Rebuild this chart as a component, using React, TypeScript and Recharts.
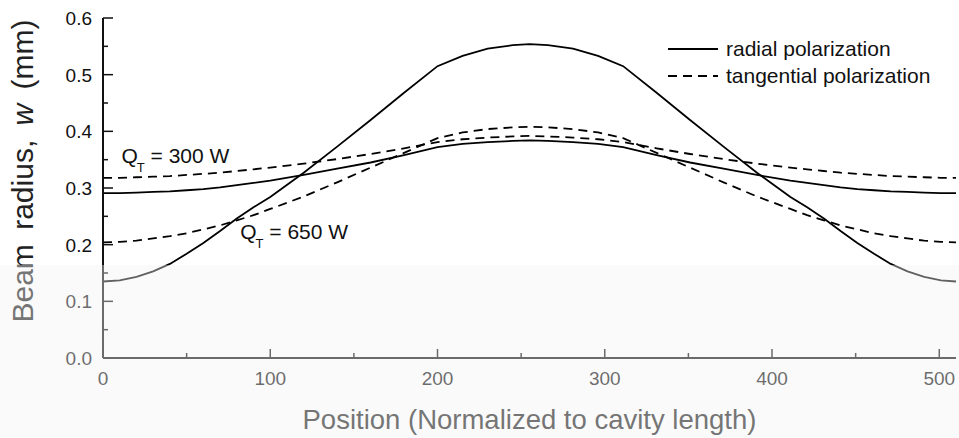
import React from 'react';
import { LineChart, Line, XAxis, YAxis, Legend, ReferenceDot } from 'recharts';

// position along the cavity (normalized)
const positions = [0, 10, 20, 30, 40, 50, 60, 70, 80, 90, 100, 120, 140, 160, 180, 200, 215, 230, 245, 255, 266, 281, 296, 311, 331, 351, 371, 391, 411, 421, 431, 441, 451, 461, 471, 481, 491, 501, 510];

// beam radius (mm)
const radial650 = [0.135, 0.137, 0.143, 0.153, 0.166, 0.184, 0.203, 0.224, 0.246, 0.266, 0.284, 0.327, 0.373, 0.42, 0.468, 0.515, 0.533, 0.546, 0.552, 0.554, 0.552, 0.546, 0.533, 0.515, 0.468, 0.42, 0.373, 0.327, 0.284, 0.266, 0.246, 0.224, 0.203, 0.184, 0.166, 0.153, 0.143, 0.137, 0.135];
const radial300 = [0.291, 0.291, 0.292, 0.293, 0.294, 0.296, 0.298, 0.301, 0.305, 0.309, 0.313, 0.323, 0.334, 0.345, 0.358, 0.372, 0.378, 0.381, 0.383, 0.384, 0.383, 0.381, 0.378, 0.372, 0.358, 0.345, 0.334, 0.323, 0.313, 0.309, 0.305, 0.301, 0.298, 0.296, 0.294, 0.293, 0.292, 0.291, 0.291];
const tang650 = [0.204, 0.205, 0.207, 0.211, 0.215, 0.22, 0.227, 0.234, 0.243, 0.252, 0.263, 0.285, 0.31, 0.336, 0.362, 0.388, 0.398, 0.404, 0.407, 0.408, 0.407, 0.404, 0.398, 0.388, 0.362, 0.336, 0.31, 0.285, 0.263, 0.252, 0.243, 0.234, 0.227, 0.22, 0.215, 0.211, 0.207, 0.205, 0.204];
const tang300 = [0.318, 0.318, 0.319, 0.32, 0.321, 0.323, 0.325, 0.327, 0.33, 0.333, 0.336, 0.343, 0.351, 0.36, 0.37, 0.381, 0.386, 0.389, 0.391, 0.392, 0.391, 0.389, 0.386, 0.381, 0.37, 0.36, 0.351, 0.343, 0.336, 0.333, 0.33, 0.327, 0.325, 0.323, 0.321, 0.32, 0.319, 0.318, 0.318];

const xMajorTicks = [0, 100, 200, 300, 400, 500];
const xMinorTicks = [50, 150, 250, 350, 450];
const yMajorTicks = [0, 0.1, 0.2, 0.3, 0.4, 0.5, 0.6];
const yMinorTicks = [0.05, 0.15, 0.25, 0.35, 0.45, 0.55];

const seriesNames = ['radial polarization', 'tangential polarization'];
const annotations = [
  { x: 11, y: 0.344, power: '300 W' },
  { x: 82, y: 0.21, power: '650 W' },
];

const data = positions.map((x, i) => ({
  x,
  radial650: radial650[i],
  radial300: radial300[i],
  tang650: tang650[i],
  tang300: tang300[i],
}));

const FONT = '"Liberation Sans", Arial, Helvetica, sans-serif';
const INK = '#111';
const DASH = '9 6';
const X_MARGIN = 14;
const Y_MARGIN = 11;

const BottomTick = (props: any) => {
  const { x, y, payload } = props;
  const base = y - X_MARGIN;
  const major = xMajorTicks.includes(payload.value);
  return (
    <g>
      <line x1={x} x2={x} y1={base} y2={base - (major ? 9 : 5)} stroke={INK} strokeWidth={1.5} />
      {major && (
        <text x={x} y={y} dy="0.71em" textAnchor="middle" fontSize={19} fill={INK} fontFamily={FONT}>
          {payload.value}
        </text>
      )}
    </g>
  );
};

const TopTick = (props: any) => {
  const { x, y, payload } = props;
  const major = xMajorTicks.includes(payload.value);
  return <line x1={x} x2={x} y1={y} y2={y + (major ? 9 : 5)} stroke={INK} strokeWidth={1.5} />;
};

const LeftTick = (props: any) => {
  const { x, y, payload } = props;
  const base = x + Y_MARGIN;
  const major = yMajorTicks.includes(payload.value);
  return (
    <g>
      <line x1={base} x2={base + (major ? 10 : 5)} y1={y} y2={y} stroke={INK} strokeWidth={1.5} />
      {major && (
        <text x={x} y={y} dy="0.36em" textAnchor="end" fontSize={19} fill={INK} fontFamily={FONT}>
          {payload.value.toFixed(1)}
        </text>
      )}
    </g>
  );
};

const RightTick = (props: any) => {
  const { x, y, payload } = props;
  const major = yMajorTicks.includes(payload.value);
  return <line x1={x} x2={x - (major ? 10 : 5)} y1={y} y2={y} stroke={INK} strokeWidth={1.5} />;
};

const XTitle = (props: any) => {
  const { viewBox } = props;
  return (
    <text x={viewBox.x + viewBox.width / 2} y={viewBox.y + 71} textAnchor="middle" fontSize={27.5} fill="#222" fontFamily={FONT}>
      Position (Normalized to cavity length)
    </text>
  );
};

const YTitle = (props: any) => {
  const { viewBox } = props;
  const cx = viewBox.x + 33;
  const cy = viewBox.y + viewBox.height / 2 - 17;
  return (
    <text
      x={cx}
      y={cy}
      transform={`rotate(-90, ${cx}, ${cy})`}
      textAnchor="middle"
      fontSize={30}
      wordSpacing={6}
      fill="#222"
      fontFamily={FONT}
    >
      Beam radius, <tspan fontStyle="italic">w</tspan> (mm)
    </text>
  );
};

const QLabel = (power: string) => (props: any) => {
  const { viewBox } = props;
  const x = viewBox.x;
  const y = viewBox.y;
  return (
    <text x={x} y={y} fontSize={21} fill={INK} fontFamily={FONT}>
      Q<tspan dx={-1} dy={9} fontSize={13}>T</tspan>
      <tspan dy={-9}> = {power}</tspan>
    </text>
  );
};

const renderLegend = (props: any) => {
  const payload = (props.payload || []).filter((entry: any) => entry.type !== 'none' && seriesNames.includes(entry.value));
  return (
    <div style={{ fontFamily: FONT, fontSize: 21, color: INK }}>
      {payload.map((entry: any) => (
        <div key={entry.value} style={{ display: 'flex', alignItems: 'center', height: 27, whiteSpace: 'nowrap' }}>
          <svg width={50} height={4} style={{ marginRight: 8 }}>
            <line
              x1={0}
              y1={2}
              x2={50}
              y2={2}
              stroke="#000"
              strokeWidth={1.8}
              strokeDasharray={entry.dataKey === 'tang650' ? DASH : undefined}
            />
          </svg>
          <span>{entry.value}</span>
        </div>
      ))}
    </div>
  );
};

export default function App() {
  return (
    <div style={{ position: 'absolute', left: 0, top: 0, width: 959, height: 438, background: '#fff', overflow: 'hidden' }}>
      <LineChart width={959} height={438} data={data} margin={{ top: 18, right: 3, left: 0, bottom: 0 }} style={{ fontFamily: FONT }}>
        <XAxis
          dataKey="x"
          type="number"
          domain={[0, 510]}
          ticks={[...xMajorTicks, ...xMinorTicks]}
          interval={0}
          height={80}
          tickSize={0}
          tickMargin={X_MARGIN}
          tickLine={false}
          tick={<BottomTick />}
          axisLine={{ stroke: INK, strokeWidth: 2 }}
          label={{ content: <XTitle /> }}
        />
        <XAxis
          xAxisId="top"
          orientation="top"
          dataKey="x"
          type="number"
          domain={[0, 510]}
          ticks={[...xMajorTicks, ...xMinorTicks]}
          interval={0}
          height={0}
          tickSize={0}
          tickMargin={0}
          tickLine={false}
          tick={<TopTick />}
          axisLine={{ stroke: INK, strokeWidth: 2 }}
        />
        <YAxis
          type="number"
          domain={[0, 0.6]}
          ticks={[...yMajorTicks, ...yMinorTicks]}
          interval={0}
          width={103}
          tickSize={0}
          tickMargin={Y_MARGIN}
          tickLine={false}
          tick={<LeftTick />}
          axisLine={{ stroke: INK, strokeWidth: 2 }}
          label={{ content: <YTitle /> }}
        />
        <YAxis
          yAxisId="right"
          orientation="right"
          type="number"
          domain={[0, 0.6]}
          ticks={[...yMajorTicks, ...yMinorTicks]}
          interval={0}
          width={0}
          tickSize={0}
          tickMargin={0}
          tickLine={false}
          tick={<RightTick />}
          axisLine={{ stroke: INK, strokeWidth: 2 }}
        />
        <Legend
          content={renderLegend}
          layout="horizontal"
          verticalAlign="middle"
          align="center"
          wrapperStyle={{ left: 668, top: 35, width: 'auto' }}
        />
        <Line type="linear" dataKey="radial650" name={seriesNames[0]} stroke="#000" strokeWidth={1.8} dot={false} activeDot={false} isAnimationActive={false} />
        <Line type="linear" dataKey="tang650" name={seriesNames[1]} stroke="#000" strokeWidth={1.8} strokeDasharray={DASH} dot={false} activeDot={false} isAnimationActive={false} />
        <Line type="linear" dataKey="radial300" legendType="none" stroke="#000" strokeWidth={1.8} dot={false} activeDot={false} isAnimationActive={false} />
        <Line type="linear" dataKey="tang300" legendType="none" stroke="#000" strokeWidth={1.8} strokeDasharray={DASH} dot={false} activeDot={false} isAnimationActive={false} />
        {annotations.map((a) => (
          <ReferenceDot key={a.power} x={a.x} y={a.y} r={0} fill="none" stroke="none" label={{ content: QLabel(a.power) }} />
        ))}
      </LineChart>
      <div style={{ position: 'absolute', left: 0, top: 265, width: 959, height: 173, background: 'rgba(243,243,243,0.4)', pointerEvents: 'none' }} />
    </div>
  );
}
